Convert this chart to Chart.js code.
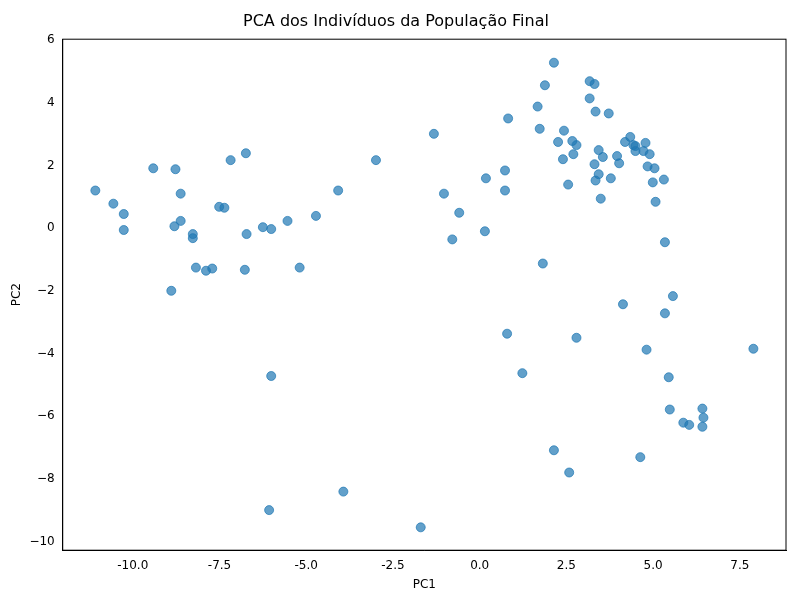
<!DOCTYPE html>
<html><head><meta charset="utf-8">
<script src="https://cdn.jsdelivr.net/npm/chart.js"></script>
<style>html,body{margin:0;padding:0;background:#fff}#c{display:block}</style>
</head><body>
<div style="width:800px;height:600px"><canvas id="c"></canvas></div>
<script>
const pc1 = [-11.08,-10.56,-10.26,-10.26,-9.41,-8.89,-8.77,-8.62,-8.80,-8.62,-8.27,-8.27,-8.18,-7.89,-7.71,-7.51,-7.36,-7.18,-6.74,-6.72,-6.77,-6.25,-6.01,-6.01,-6.07,-5.54,-5.19,-4.72,-4.08,-3.93,-2.99,-1.70,-1.32,-1.03,-0.79,-0.59,0.15,0.18,0.73,0.73,0.82,0.79,1.23,1.67,1.73,1.82,1.88,2.14,2.14,2.26,2.40,2.43,2.55,2.58,2.67,2.70,2.79,2.79,3.17,3.17,3.31,3.34,3.31,3.34,3.49,3.43,3.43,3.55,3.72,3.78,3.96,4.02,4.13,4.19,4.34,4.43,4.49,4.49,4.63,4.72,4.78,4.84,4.81,4.90,4.99,5.04,5.07,5.31,5.34,5.34,5.45,5.48,5.57,5.87,6.04,6.42,6.45,6.42,7.89];
const pc2 = [1.20,0.78,0.45,-0.06,1.91,-2.0,1.88,1.10,0.06,0.23,-0.19,-0.32,-1.26,-1.36,-1.29,0.68,0.65,2.17,2.39,-0.19,-1.33,0.03,-0.03,-4.72,-9.0,0.23,-1.26,0.39,1.20,-8.41,2.17,-9.55,3.01,1.10,-0.36,0.49,-0.10,1.59,1.84,1.20,3.50,-3.37,-4.63,3.88,3.17,-1.13,4.56,5.28,-7.09,2.75,2.20,3.11,1.39,-7.80,2.78,2.36,2.65,-3.50,4.69,4.14,4.60,3.72,2.04,1.52,0.94,2.49,1.72,2.27,3.66,1.59,2.30,2.07,-2.43,2.75,2.91,2.65,2.46,2.62,-7.31,2.46,2.72,1.97,-3.88,2.36,1.46,1.91,0.84,1.55,-0.45,-2.72,-4.76,-5.79,-2.17,-6.21,-6.28,-5.76,-6.05,-6.34,-3.85];
const xTicks = [-10,-7.5,-5,-2.5,0,2.5,5,7.5];
const yTicks = [-10,-8,-6,-4,-2,0,2,4,6];
const pts = pc1.map((x,i)=>({x, y: pc2[i]}));
const font = {family:'DejaVu Sans', size:12};
new Chart(document.getElementById('c'), {
  type:'scatter',
  data:{datasets:[{data:pts, backgroundColor:'rgba(31,119,180,0.7)', borderColor:'rgba(31,119,180,0.7)', pointRadius:4.5, pointHoverRadius:4.5}]},
  options:{
    responsive:true, maintainAspectRatio:false, animation:false,
    layout:{padding:{left:6,right:14,top:4,bottom:4}},
    plugins:{legend:{display:false}, tooltip:{enabled:false},
      title:{display:true, text:'PCA dos Indivíduos da População Final', color:'#000', font:{family:'DejaVu Sans', size:16, weight:'normal'}, padding:{top:8,bottom:8}}},
    scales:{
      x:{type:'linear', min:-12.02, max:8.83,
        afterBuildTicks: a=>{a.ticks = xTicks.map(v=>({value:v}));},
        grid:{display:false, drawTicks:true, tickLength:5, tickColor:'#000'},
        border:{color:'#000'},
        ticks:{color:'#000', font, callback:v=>v.toFixed(1)},
        title:{display:true, text:'PC1', color:'#000', font, padding:{top:2}}},
      y:{type:'linear', min:-10.28, max:6.03,
        afterBuildTicks: a=>{a.ticks = yTicks.map(v=>({value:v}));},
        grid:{display:false, drawTicks:true, tickLength:5, tickColor:'#000'},
        border:{color:'#000'},
        ticks:{color:'#000', font, callback:v=>String(v).replace('-','\u2212')},
        title:{display:true, text:'PC2', color:'#000', font, padding:{bottom:2}}}
    }
  },
  plugins:[{id:'box', afterDraw(c){const a=c.chartArea,x=c.ctx;x.save();x.strokeStyle='#000';x.lineWidth=1;x.strokeRect(a.left,a.top,a.right-a.left,a.bottom-a.top);x.restore();}}]
});
</script>
</body></html>
